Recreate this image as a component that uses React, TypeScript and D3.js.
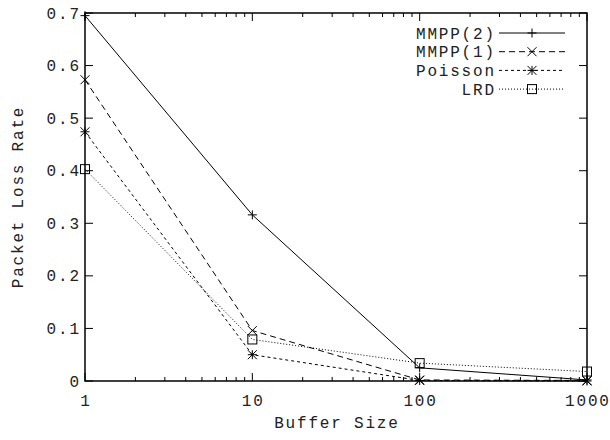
import React from "react";
import * as d3 from "d3";

const bufferSizes = [1, 10, 100, 1000];
const seriesNames = ["MMPP(2)", "MMPP(1)", "Poisson", "LRD"];
const mmpp2 = [0.695, 0.316, 0.025, 0.002];
const mmpp1 = [0.573, 0.096, 0.002, 0.001];
const poisson = [0.474, 0.05, 0.001, 0.0];
const lrd = [0.403, 0.079, 0.034, 0.018];
const yTicks = [0, 0.1, 0.2, 0.3, 0.4, 0.5, 0.6, 0.7];
const xTicks = [1, 10, 100, 1000];

const W = 610, H = 440;
const L = 85, R = 587, T = 13, B = 381;
const FONT = "'Liberation Mono', 'DejaVu Sans Mono', monospace";
const FS = 16;
const LS = 1.8;

const dashes = ["", "6,4", "3,3", "1,2"];
const markers = ["plus", "cross", "star", "box"];

function Marker({ kind, x, y }: { kind: string; x: number; y: number }) {
  const s = 4.5;
  const st = { stroke: "#000", strokeWidth: 1, fill: "none" };
  if (kind === "plus")
    return <path d={`M${x - s},${y}H${x + s}M${x},${y - s}V${y + s}`} {...st} />;
  if (kind === "cross")
    return <path d={`M${x - s},${y - s}L${x + s},${y + s}M${x - s},${y + s}L${x + s},${y - s}`} {...st} />;
  if (kind === "star")
    return (
      <path
        d={`M${x - s},${y}H${x + s}M${x},${y - s}V${y + s}M${x - s},${y - s}L${x + s},${y + s}M${x - s},${y + s}L${x + s},${y - s}`}
        {...st}
      />
    );
  return <rect x={x - s} y={y - s} width={2 * s} height={2 * s} {...st} />;
}

const txt = { fontFamily: FONT, fontSize: FS, letterSpacing: LS, fill: "#222" };

export default function App() {
  const x = d3.scaleLog().domain([1, 1000]).range([L, R]);
  const y = d3.scaleLinear().domain([0, 0.7]).range([B, T]);
  const data = [mmpp2, mmpp1, poisson, lrd];
  const line = d3
    .line<number>()
    .x((_, i) => x(bufferSizes[i]))
    .y((d) => y(d));

  const minor: number[] = [];
  for (let dec = 1; dec < 1000; dec *= 10)
    for (let k = 2; k <= 9; k++) minor.push(dec * k);

  const legendY = [33, 51.7, 70.4, 89.1];
  const legX1 = 499, legX2 = 565, legText = 494 + LS;

  return (
    <svg width={W} height={H} style={{ position: "absolute", left: 0, top: 0, background: "#fff" }}>
      <rect x={0} y={0} width={W} height={H} fill="#fff" />
      {data.map((d, i) => (
        <path key={i} d={line(d) || ""} fill="none" stroke="#000" strokeWidth={1} strokeDasharray={dashes[i]} />
      ))}
      {data.map((d, i) =>
        d.map((v, j) => <Marker key={`${i}-${j}`} kind={markers[i]} x={x(bufferSizes[j])} y={y(v)} />)
      )}
      {yTicks.map((t) => (
        <g key={`y${t}`}>
          <line x1={L} x2={L + 8} y1={y(t)} y2={y(t)} stroke="#000" />
          <line x1={R} x2={R - 8} y1={y(t)} y2={y(t)} stroke="#000" />
          <text x={L - 6 + LS} y={y(t)} dy="0.35em" textAnchor="end" {...txt}>
            {t === 0 ? "0" : t.toFixed(1)}
          </text>
        </g>
      ))}
      {xTicks.map((t) => (
        <g key={`x${t}`}>
          <line x1={x(t)} x2={x(t)} y1={B} y2={B - 8} stroke="#000" />
          <line x1={x(t)} x2={x(t)} y1={T} y2={T + 8} stroke="#000" />
          <text x={x(t) + LS / 2} y={B + 25} textAnchor="middle" {...txt}>
            {t}
          </text>
        </g>
      ))}
      {minor.map((t) => (
        <g key={`m${t}`}>
          <line x1={x(t)} x2={x(t)} y1={B} y2={B - 4} stroke="#000" />
          <line x1={x(t)} x2={x(t)} y1={T} y2={T + 4} stroke="#000" />
        </g>
      ))}
      <rect x={L} y={T} width={R - L} height={B - T} fill="none" stroke="#000" strokeWidth={1.5} />
      {seriesNames.map((n, i) => (
        <g key={n}>
          <text x={legText} y={legendY[i]} dy="0.35em" textAnchor="end" {...txt}>
            {n}
          </text>
          <line x1={legX1} x2={legX2} y1={legendY[i]} y2={legendY[i]} stroke="#000" strokeDasharray={dashes[i]} />
          <Marker kind={markers[i]} x={(legX1 + legX2) / 2} y={legendY[i]} />
        </g>
      ))}
      <text x={(L + R) / 2 + LS / 2} y={428} textAnchor="middle" {...txt}>
        Buffer Size
      </text>
      <text transform={`translate(23,${(T + B) / 2}) rotate(-90)`} textAnchor="middle" {...txt}>
        Packet Loss Rate
      </text>
    </svg>
  );
}
